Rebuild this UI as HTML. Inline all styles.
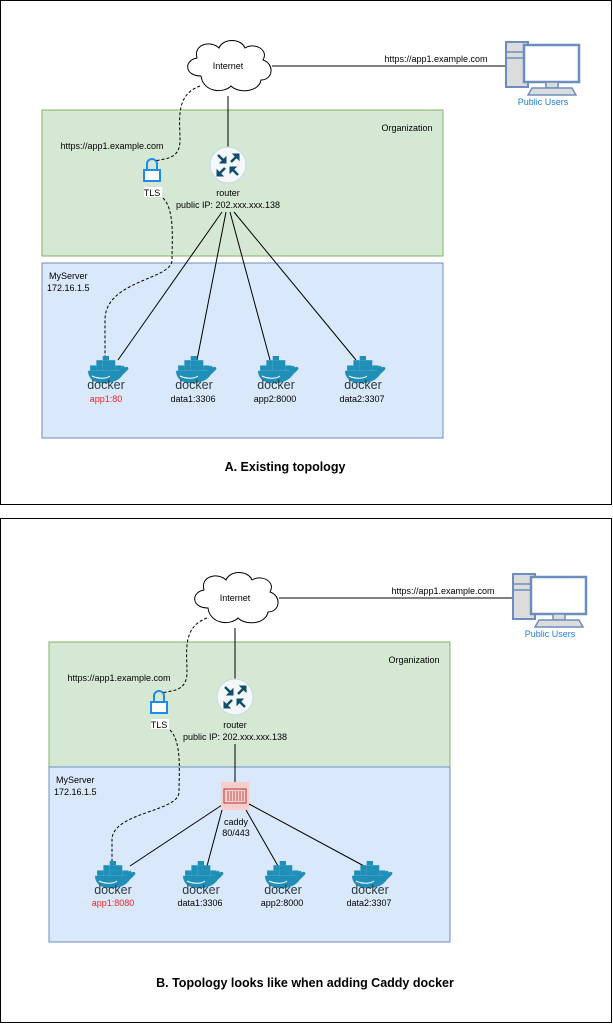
<!DOCTYPE html>
<html><head><meta charset="utf-8"><style>
html,body{margin:0;padding:0;background:#fff}
svg{display:block}
text{font-family:"Liberation Sans",sans-serif;font-size:9px;fill:#000}
</style></head><body>
<svg width="613" height="1024" viewBox="0 0 613 1024">
<defs>
<g id="cloud">
<path d="M-28,10 C-45,10 -45,-6 -32,-8 C-36,-22 -18,-26 -10,-18 C-6,-28 12,-28 16,-18 C26,-24 40,-16 34,-6 C46,-2 44,14 32,14 C30,26 10,28 2,20 C-6,28 -26,26 -28,10 Z" fill="#fff" stroke="#000" stroke-width="1"/>
</g>
<g id="pc">
<rect x="1" y="2" width="22" height="45" fill="#dcdcdc" stroke="#6c8ebf" stroke-width="2"/>
<line x1="1" y1="12" x2="23" y2="12" stroke="#6c8ebf" stroke-width="1.5"/>
<line x1="1" y1="18" x2="23" y2="18" stroke="#6c8ebf" stroke-width="1.5"/>
<rect x="19" y="5" width="55" height="37" fill="#fff" stroke="#6c8ebf" stroke-width="2.5"/>
<rect x="41" y="42" width="12" height="6" fill="#dcdcdc" stroke="#6c8ebf" stroke-width="1.5"/>
<path d="M27,48 L67,48 L71,55 L23,55 Z" fill="#dcdcdc" stroke="#6c8ebf" stroke-width="1.5"/>
</g>
<g id="docker">
<g fill="#1f8fb8" transform="translate(1,0) scale(1.05)">
<rect x="14" y="0" width="6" height="4"/>
<rect x="8" y="4" width="6" height="5"/><rect x="14" y="4" width="6" height="5"/><rect x="20" y="4" width="6" height="5"/>
<rect x="2" y="9" width="6" height="5"/><rect x="8" y="9" width="6" height="5"/><rect x="14" y="9" width="6" height="5"/><rect x="20" y="9" width="6" height="5"/><rect x="26" y="9" width="6" height="5"/>
<path d="M0,14 L30,14 C32,9 34,8 35,11 C38,9 40,12 37,14 C35,16 34,17 33,18 C28,26 14,28 6,24 C2,22 0,18 0,14 Z"/>
</g>
<path d="M5,20 C11,23 19,23 23,20" stroke="#fff" stroke-width="1" fill="none"/>
<text x="19" y="33" text-anchor="middle" style="font-size:12.5px;fill:#2b3a40">docker</text>
</g>
<g id="router">
<circle cx="0" cy="0" r="18" fill="#f5f8fb" stroke="#c8d6e5" stroke-width="1"/>
<g stroke="#0e4d6d" stroke-width="2.5" fill="#0e4d6d">
<line x1="-10" y1="-10" x2="-4" y2="-4"/><path d="M-2,-2 L-2,-8 L-8,-2 Z" stroke-width="1"/>
<line x1="10" y1="10" x2="4" y2="4"/><path d="M2,2 L2,8 L8,2 Z" stroke-width="1"/>
<line x1="3" y1="-3" x2="9" y2="-9"/><path d="M11,-11 L5,-11 L11,-5 Z" stroke-width="1"/>
<line x1="-3" y1="3" x2="-9" y2="9"/><path d="M-11,11 L-5,11 L-11,5 Z" stroke-width="1"/>
</g>
</g>
<g id="lock">
<path d="M-5,0 L-5,-6 A5,5 0 0 1 5,-6 L5,0" fill="none" stroke="#1c8ce8" stroke-width="2"/>
<rect x="-8" y="0" width="16" height="11" fill="#fff" stroke="#1c8ce8" stroke-width="2"/>
</g>
</defs>

<!-- ===== A ===== -->
<rect x="0.5" y="0.5" width="611" height="504" fill="#fff" stroke="#000"/>
<rect x="42" y="110" width="401" height="146" fill="#d5e8d4" stroke="#82b366"/>
<rect x="42" y="263" width="401" height="175" fill="#dae8fc" stroke="#6c8ebf"/>
<line x1="272" y1="66" x2="506" y2="66" stroke="#000"/>
<text x="436" y="62" text-anchor="middle">https://app1.example.com</text>
<use href="#cloud" x="229" y="66"/>
<text x="228" y="69" text-anchor="middle">Internet</text>
<use href="#pc" x="505" y="40"/>
<text x="543" y="105" text-anchor="middle" style="fill:#1c7cd6">Public Users</text>
<text x="407" y="131" text-anchor="middle">Organization</text>
<line x1="228" y1="96" x2="228" y2="147" stroke="#000"/>
<use href="#router" x="228" y="165"/>
<text x="228" y="196" text-anchor="middle">router</text>
<text x="228" y="208" text-anchor="middle">public IP: 202.xxx.xxx.138</text>
<text x="112" y="149" text-anchor="middle">https://app1.example.com</text>
<use href="#lock" x="152" y="170"/>
<rect x="144" y="187" width="18" height="10" fill="#fff"/>
<text x="152" y="196" text-anchor="middle">TLS</text>
<path d="M200,86 C175,95 180,120 180,140 C180,160 165,158 155,161" fill="none" stroke="#000" stroke-dasharray="3,2"/>
<path d="M163,198 C175,210 172,240 172,260 C172,280 105,280 105,320 L105,360" fill="none" stroke="#000" stroke-dasharray="3,2"/>
<text x="49" y="279">MyServer</text>
<text x="47" y="291">172.16.1.5</text>
<g stroke="#000">
<line x1="222" y1="212" x2="118" y2="360"/>
<line x1="226" y1="212" x2="197" y2="360"/>
<line x1="230" y1="212" x2="270" y2="360"/>
<line x1="234" y1="212" x2="356" y2="360"/>
</g>
<use href="#docker" x="87" y="356"/>
<use href="#docker" x="175" y="356"/>
<use href="#docker" x="257" y="356"/>
<use href="#docker" x="344" y="356"/>
<text x="106" y="402" text-anchor="middle" style="fill:#ff2020">app1:80</text>
<text x="193" y="402" text-anchor="middle">data1:3306</text>
<text x="275" y="402" text-anchor="middle">app2:8000</text>
<text x="362" y="402" text-anchor="middle">data2:3307</text>
<text x="285" y="471" text-anchor="middle" style="font-size:12.5px;font-weight:bold">A. Existing topology</text>

<!-- ===== B ===== -->
<rect x="0.5" y="518.5" width="611" height="504" fill="#fff" stroke="#000"/>
<rect x="49" y="642" width="401" height="146" fill="#d5e8d4" stroke="#82b366"/>
<rect x="49" y="767" width="401" height="175" fill="#dae8fc" stroke="#6c8ebf"/>
<line x1="279" y1="598" x2="513" y2="598" stroke="#000"/>
<text x="443" y="594" text-anchor="middle">https://app1.example.com</text>
<use href="#cloud" x="236" y="598"/>
<text x="235" y="601" text-anchor="middle">Internet</text>
<use href="#pc" x="512" y="572"/>
<text x="550" y="637" text-anchor="middle" style="fill:#1c7cd6">Public Users</text>
<text x="414" y="663" text-anchor="middle">Organization</text>
<line x1="235" y1="628" x2="235" y2="679" stroke="#000"/>
<use href="#router" x="235" y="697"/>
<text x="235" y="728" text-anchor="middle">router</text>
<text x="235" y="740" text-anchor="middle">public IP: 202.xxx.xxx.138</text>
<text x="119" y="681" text-anchor="middle">https://app1.example.com</text>
<use href="#lock" x="159" y="702"/>
<rect x="151" y="719" width="18" height="10" fill="#fff"/>
<text x="159" y="728" text-anchor="middle">TLS</text>
<path d="M207,618 C182,627 187,652 187,672 C187,692 172,690 162,693" fill="none" stroke="#000" stroke-dasharray="3,2"/>
<path d="M170,730 C182,742 179,772 179,792 C179,812 112,812 112,840 L112,866" fill="none" stroke="#000" stroke-dasharray="3,2"/>
<text x="56" y="783">MyServer</text>
<text x="54" y="795">172.16.1.5</text>
<line x1="235" y1="744" x2="235" y2="782" stroke="#000"/>
<g stroke="#000">
<line x1="222" y1="805" x2="130" y2="866"/>
<line x1="222" y1="810" x2="207" y2="866"/>
<line x1="246" y1="810" x2="278" y2="866"/>
<line x1="249" y1="804" x2="364" y2="866"/>
</g>
<rect x="221" y="782" width="28" height="28" fill="#f8cecc"/>
<rect x="224" y="789" width="22" height="14" fill="none" stroke="#b85450" stroke-width="1.2"/>
<g stroke="#b85450" stroke-width="1"><line x1="228" y1="791" x2="228" y2="801"/><line x1="231" y1="791" x2="231" y2="801"/><line x1="234" y1="791" x2="234" y2="801"/><line x1="237" y1="791" x2="237" y2="801"/><line x1="240" y1="791" x2="240" y2="801"/><line x1="243" y1="791" x2="243" y2="801"/></g>
<text x="236" y="825" text-anchor="middle">caddy</text>
<text x="236" y="836" text-anchor="middle">80/443</text>
<use href="#docker" x="94" y="861"/>
<use href="#docker" x="182" y="861"/>
<use href="#docker" x="264" y="861"/>
<use href="#docker" x="351" y="861"/>
<text x="113" y="906" text-anchor="middle" style="fill:#ff2020">app1:8080</text>
<text x="200" y="906" text-anchor="middle">data1:3306</text>
<text x="282" y="906" text-anchor="middle">app2:8000</text>
<text x="369" y="906" text-anchor="middle">data2:3307</text>
<text x="305" y="987" text-anchor="middle" style="font-size:12.5px;font-weight:bold">B. Topology looks like when adding Caddy docker</text>
</svg>
</body></html>
